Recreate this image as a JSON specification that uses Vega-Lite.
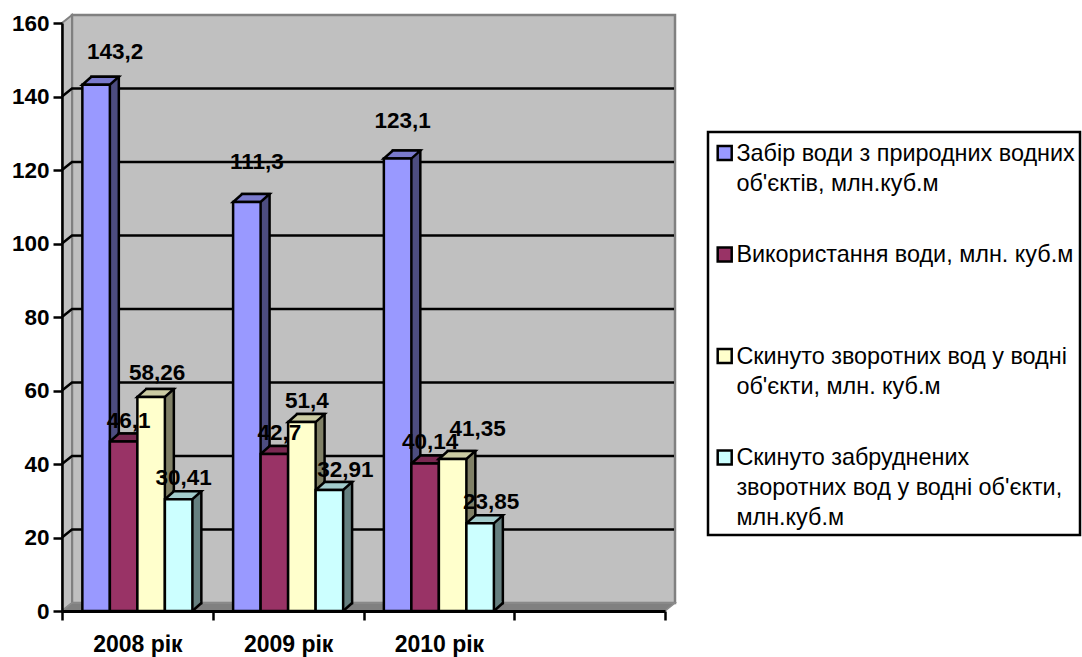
{
  "$schema": "https://vega.github.io/schema/vega-lite/v6.json",
  "autosize": "none",
  "width": 603,
  "height": 588,
  "padding": {"left": 62, "top": 23, "right": 417, "bottom": 46},
  "background": "white",
  "config": {
    "font": "Liberation Sans",
    "view": {"stroke": null},
    "axis": {"labelFont": "Liberation Sans", "titleFont": "Liberation Sans"},
    "legend": {"labelFont": "Liberation Sans"}
  },
  "datasets": {
    "water": [
      {"year": "2008 рік", "order": 0, "series": "Забір води з природних водних|об'єктів, млн.куб.м", "value": 143.2, "label": "143,2"},
      {"year": "2008 рік", "order": 1, "series": "Використання води, млн. куб.м", "value": 46.1, "label": "46,1"},
      {"year": "2008 рік", "order": 2, "series": "Скинуто зворотних вод у водні|об'єкти, млн. куб.м", "value": 58.26, "label": "58,26"},
      {"year": "2008 рік", "order": 3, "series": "Скинуто забруднених|зворотних вод у водні об'єкти,|млн.куб.м", "value": 30.41, "label": "30,41"},
      {"year": "2009 рік", "order": 0, "series": "Забір води з природних водних|об'єктів, млн.куб.м", "value": 111.3, "label": "111,3"},
      {"year": "2009 рік", "order": 1, "series": "Використання води, млн. куб.м", "value": 42.7, "label": "42,7"},
      {"year": "2009 рік", "order": 2, "series": "Скинуто зворотних вод у водні|об'єкти, млн. куб.м", "value": 51.4, "label": "51,4"},
      {"year": "2009 рік", "order": 3, "series": "Скинуто забруднених|зворотних вод у водні об'єкти,|млн.куб.м", "value": 32.91, "label": "32,91"},
      {"year": "2010 рік", "order": 0, "series": "Забір води з природних водних|об'єктів, млн.куб.м", "value": 123.1, "label": "123,1"},
      {"year": "2010 рік", "order": 1, "series": "Використання води, млн. куб.м", "value": 40.14, "label": "40,14"},
      {"year": "2010 рік", "order": 2, "series": "Скинуто зворотних вод у водні|об'єкти, млн. куб.м", "value": 41.35, "label": "41,35"},
      {"year": "2010 рік", "order": 3, "series": "Скинуто забруднених|зворотних вод у водні об'єкти,|млн.куб.м", "value": 23.85, "label": "23,85"}
    ],
    "origin": [{"year": "2008 рік", "value": 0}],
    "grid": [
      {"year": "2008 рік", "value": 20},
      {"year": "2008 рік", "value": 40},
      {"year": "2008 рік", "value": 60},
      {"year": "2008 рік", "value": 80},
      {"year": "2008 рік", "value": 100},
      {"year": "2008 рік", "value": 120},
      {"year": "2008 рік", "value": 140}
    ]
  },
  "layer": [
    {
      "description": "back wall",
      "data": {"name": "origin"},
      "mark": {"type": "point", "filled": true, "opacity": 1, "size": 4, "shape": "M10,-8 L10,-596 L613,-596 L613,-8 Z", "fill": "#C0C0C0", "stroke": "#808080", "strokeWidth": 2.5},
      "encoding": {
        "x": {
          "field": "year", "type": "nominal", "bandPosition": 0,
          "scale": {"domain": ["2008 рік", "2009 рік", "2010 рік", " "], "paddingInner": 0, "paddingOuter": 0},
          "axis": {"title": null, "labelAngle": 0, "tickBand": "extent", "labelFontSize": 23, "labelFontWeight": "bold", "labelColor": "black", "labelPadding": 13, "tickColor": "black", "tickWidth": 2.5, "tickSize": 9, "domainColor": "black", "domainWidth": 3, "zindex": 1}
        },
        "y": {
          "field": "value", "type": "quantitative",
          "scale": {"domain": [0, 160], "nice": false},
          "axis": {"title": null, "values": [0, 20, 40, 60, 80, 100, 120, 140, 160], "grid": false, "labelFontSize": 22.5, "labelFontWeight": "bold", "labelColor": "black", "labelPadding": 4, "tickColor": "black", "tickWidth": 2.5, "tickSize": 9, "domainColor": "black", "domainWidth": 2.5, "zindex": 1}
        }
      }
    },
    {
      "description": "left wall",
      "data": {"name": "origin"},
      "mark": {"type": "point", "filled": true, "opacity": 1, "size": 4, "shape": "M0,0 L10,-8 L10,-596 L0,-588 Z", "fill": "#C0C0C0", "stroke": "#808080", "strokeWidth": 2},
      "encoding": {
        "x": {"field": "year", "type": "nominal", "bandPosition": 0},
        "y": {"field": "value", "type": "quantitative"}
      }
    },
    {
      "description": "floor",
      "data": {"name": "origin"},
      "mark": {"type": "point", "filled": true, "opacity": 1, "size": 4, "shape": "M0,0 L10,-8 L613,-8 L603,0 Z", "fill": "#808080", "stroke": "#8c8c8c", "strokeWidth": 1.5},
      "encoding": {
        "x": {"field": "year", "type": "nominal", "bandPosition": 0},
        "y": {"field": "value", "type": "quantitative"}
      }
    },
    {
      "description": "gridlines running over the left and back walls",
      "data": {"name": "grid"},
      "mark": {"type": "point", "filled": false, "opacity": 1, "size": 4, "shape": "M0,0 L10,-8 L612,-8", "stroke": "black", "strokeWidth": 2.5},
      "encoding": {
        "x": {"field": "year", "type": "nominal", "bandPosition": 0},
        "y": {"field": "value", "type": "quantitative"}
      }
    },
    {
      "description": "right faces of the columns: the same bars, moved back along the depth by a band alignment of their own",
      "data": {"name": "water"},
      "mark": {"type": "bar", "yOffset": -8, "stroke": "black", "strokeWidth": 2.5},
      "encoding": {
        "x": {"field": "year", "type": "nominal"},
        "xOffset": {"field": "order", "type": "nominal", "scale": {"type": "band", "paddingInner": 0, "paddingOuter": 0.74, "align": 0.72}},
        "y": {"field": "value", "type": "quantitative"},
        "fill": {"field": "order", "type": "nominal", "legend": null, "scale": {"range": ["#4D4D80", "#4D1A33", "#808066", "#668080"]}}
      }
    },
    {
      "description": "lower corner of the right faces",
      "data": {"name": "water"},
      "transform": [{"calculate": "0", "as": "floor"}],
      "mark": {"type": "point", "filled": true, "opacity": 1, "size": 4, "shape": "M13.75,0 L21.5,-7 L21.5,-10 L13.75,-10 Z", "strokeWidth": 0},
      "encoding": {
        "x": {"field": "year", "type": "nominal"},
        "xOffset": {"field": "order", "type": "nominal", "scale": {"type": "band", "paddingInner": 0, "paddingOuter": 0.74}},
        "y": {"field": "floor", "type": "quantitative"},
        "fill": {"field": "order", "type": "nominal", "legend": null, "scale": {"range": ["#4D4D80", "#4D1A33", "#808066", "#668080"]}}
      }
    },
    {
      "description": "diagonal foot edge of the right faces",
      "data": {"name": "water"},
      "transform": [{"calculate": "0", "as": "floor"}],
      "mark": {"type": "point", "filled": false, "opacity": 1, "size": 4, "shape": "M13.75,0 L22.75,-8", "stroke": "black", "strokeWidth": 2.5},
      "encoding": {
        "x": {"field": "year", "type": "nominal"},
        "xOffset": {"field": "order", "type": "nominal", "scale": {"type": "band", "paddingInner": 0, "paddingOuter": 0.74}},
        "y": {"field": "floor", "type": "quantitative"}
      }
    },
    {
      "description": "top faces of the columns",
      "data": {"name": "water"},
      "mark": {"type": "point", "filled": true, "opacity": 1, "size": 4, "shape": "M-13.75,0 L13.75,0 L22.75,-8 L-4.75,-8 Z", "stroke": "black", "strokeWidth": 2.5},
      "encoding": {
        "x": {"field": "year", "type": "nominal"},
        "xOffset": {"field": "order", "type": "nominal", "scale": {"type": "band", "paddingInner": 0, "paddingOuter": 0.74}},
        "y": {"field": "value", "type": "quantitative"},
        "fill": {"field": "order", "type": "nominal", "legend": null, "scale": {"range": ["#7A7ACC", "#7A2952", "#CCCCA3", "#A3CCCC"]}}
      }
    },
    {
      "description": "front faces of the columns and the legend",
      "data": {"name": "water"},
      "mark": {"type": "bar", "stroke": "black", "strokeWidth": 2.5},
      "encoding": {
        "x": {"field": "year", "type": "nominal"},
        "xOffset": {"field": "order", "type": "nominal", "scale": {"type": "band", "paddingInner": 0, "paddingOuter": 0.74}},
        "y": {"field": "value", "type": "quantitative"},
        "fill": {
          "field": "series", "type": "nominal",
          "scale": {"domain": ["Забір води з природних водних|об'єктів, млн.куб.м", "Використання води, млн. куб.м", "Скинуто зворотних вод у водні|об'єкти, млн. куб.м", "Скинуто забруднених|зворотних вод у водні об'єкти,|млн.куб.м"], "range": ["#9999FF", "#993366", "#FFFFCC", "#CCFFFF"]},
          "legend": {
            "title": null, "orient": "none", "legendX": 646, "legendY": 109,
            "padding": 5, "strokeColor": "black", "fillColor": "white",
            "symbolType": "square", "symbolSize": 196, "symbolStrokeColor": "black", "symbolStrokeWidth": 2.5,
            "labelFontSize": 23.4, "labelColor": "black", "labelLimit": 500, "labelOffset": 0,
            "labelExpr": "split(datum.label, '|')", "gridAlign": "all", "rowPadding": 12.5, "labelBaseline": "top",
            "encode": {
              "legend": {"update": {"strokeWidth": {"value": 2.5}, "width": {"value": 390}}},
              "symbols": {"update": {"y": {"value": 16}}},
              "labels": {"update": {"lineHeight": {"value": 30}, "dy": {"value": -6}}}
            }
          }
        }
      }
    },
    {
      "description": "value labels that sit close above their column",
      "data": {"name": "water"},
      "transform": [{"filter": "indexof(['46,1','30,41','42,7','51,4','40,14'], datum.label) >= 0"}],
      "mark": {"type": "text", "fontSize": 22.5, "fontWeight": "bold", "color": "black", "dx": 5, "dy": -21},
      "encoding": {
        "x": {"field": "year", "type": "nominal"},
        "xOffset": {"field": "order", "type": "nominal", "scale": {"type": "band", "paddingInner": 0, "paddingOuter": 0.74, "domain": [0, 1, 2, 3]}},
        "y": {"field": "value", "type": "quantitative"},
        "text": {"field": "label"}
      }
    },
    {
      "data": {"name": "water"},
      "transform": [{"filter": "datum.label == '143,2'"}],
      "mark": {"type": "text", "fontSize": 22.5, "fontWeight": "bold", "color": "black", "dx": 19, "dy": -33},
      "encoding": {"x": {"field": "year", "type": "nominal"}, "xOffset": {"field": "order", "type": "nominal", "scale": {"type": "band", "paddingInner": 0, "paddingOuter": 0.74, "domain": [0, 1, 2, 3]}}, "y": {"field": "value", "type": "quantitative"}, "text": {"field": "label"}}
    },
    {
      "data": {"name": "water"},
      "transform": [{"filter": "datum.label == '111,3'"}],
      "mark": {"type": "text", "fontSize": 22.5, "fontWeight": "bold", "color": "black", "dx": 10, "dy": -40},
      "encoding": {"x": {"field": "year", "type": "nominal"}, "xOffset": {"field": "order", "type": "nominal", "scale": {"type": "band", "paddingInner": 0, "paddingOuter": 0.74, "domain": [0, 1, 2, 3]}}, "y": {"field": "value", "type": "quantitative"}, "text": {"field": "label"}}
    },
    {
      "data": {"name": "water"},
      "transform": [{"filter": "datum.label == '123,1'"}],
      "mark": {"type": "text", "fontSize": 22.5, "fontWeight": "bold", "color": "black", "dx": 5, "dy": -38},
      "encoding": {"x": {"field": "year", "type": "nominal"}, "xOffset": {"field": "order", "type": "nominal", "scale": {"type": "band", "paddingInner": 0, "paddingOuter": 0.74, "domain": [0, 1, 2, 3]}}, "y": {"field": "value", "type": "quantitative"}, "text": {"field": "label"}}
    },
    {
      "data": {"name": "water"},
      "transform": [{"filter": "datum.label == '58,26'"}],
      "mark": {"type": "text", "fontSize": 22.5, "fontWeight": "bold", "color": "black", "dx": 6, "dy": -24},
      "encoding": {"x": {"field": "year", "type": "nominal"}, "xOffset": {"field": "order", "type": "nominal", "scale": {"type": "band", "paddingInner": 0, "paddingOuter": 0.74, "domain": [0, 1, 2, 3]}}, "y": {"field": "value", "type": "quantitative"}, "text": {"field": "label"}}
    },
    {
      "data": {"name": "water"},
      "transform": [{"filter": "datum.label == '32,91'"}],
      "mark": {"type": "text", "fontSize": 22.5, "fontWeight": "bold", "color": "black", "dx": 16, "dy": -20},
      "encoding": {"x": {"field": "year", "type": "nominal"}, "xOffset": {"field": "order", "type": "nominal", "scale": {"type": "band", "paddingInner": 0, "paddingOuter": 0.74, "domain": [0, 1, 2, 3]}}, "y": {"field": "value", "type": "quantitative"}, "text": {"field": "label"}}
    },
    {
      "data": {"name": "water"},
      "transform": [{"filter": "datum.label == '41,35'"}],
      "mark": {"type": "text", "fontSize": 22.5, "fontWeight": "bold", "color": "black", "dx": 25, "dy": -30},
      "encoding": {"x": {"field": "year", "type": "nominal"}, "xOffset": {"field": "order", "type": "nominal", "scale": {"type": "band", "paddingInner": 0, "paddingOuter": 0.74, "domain": [0, 1, 2, 3]}}, "y": {"field": "value", "type": "quantitative"}, "text": {"field": "label"}}
    },
    {
      "data": {"name": "water"},
      "transform": [{"filter": "datum.label == '23,85'"}],
      "mark": {"type": "text", "fontSize": 22.5, "fontWeight": "bold", "color": "black", "dx": 11, "dy": -21},
      "encoding": {"x": {"field": "year", "type": "nominal"}, "xOffset": {"field": "order", "type": "nominal", "scale": {"type": "band", "paddingInner": 0, "paddingOuter": 0.74, "domain": [0, 1, 2, 3]}}, "y": {"field": "value", "type": "quantitative"}, "text": {"field": "label"}}
    }
  ],
  "resolve": {"scale": {"fill": "independent", "xOffset": "independent"}}
}
